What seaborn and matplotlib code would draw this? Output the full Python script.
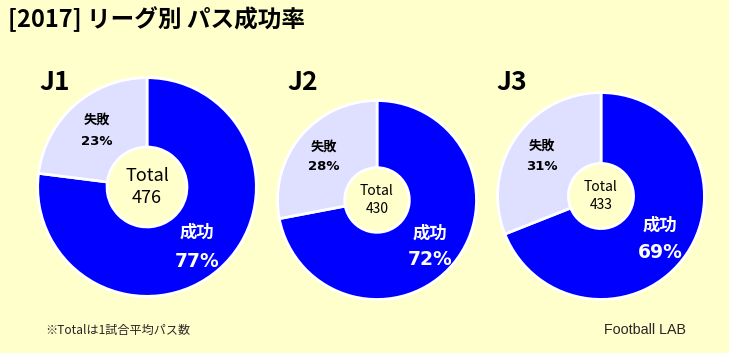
import numpy as np
import matplotlib.pyplot as plt
import seaborn as sns

# data
leagues = ["J1", "J2", "J3"]
success_pct = [77, 72, 69]
fail_pct = [23, 28, 31]
total_passes = [476, 430, 433]
slice_labels = ["成功", "失敗"]

title = "[2017] リーグ別 パス成功率"
note = "※Totalは1試合平均パス数"
source = "Football LAB"

sns.set_theme(style="white")
plt.rcParams['font.family'] = ['Noto Sans CJK JP', 'DejaVu Sans']

bg = "#FFFFCC"
colors = ["#0000FF", "#DFDFFF"]
pct_font = ['DejaVu Sans']

W, H = 729, 353
fig = plt.figure(figsize=(W / 100, H / 100), dpi=100, facecolor=bg)

# donut layout in pixels: center x, center y, radius, hole radius, fonts
layout = [
    dict(cx=147, cy=187, r=111, hole=0.36, total_fs=13, head=(55, 82)),
    dict(cx=377, cy=200, r=101, hole=0.32, total_fs=10, head=(303, 83)),
    dict(cx=601, cy=196, r=105, hole=0.31, total_fs=10, head=(512, 82)),
]

for i, lg in enumerate(leagues):
    L = layout[i]
    r = L["r"]
    ax = fig.add_axes([(L["cx"] - r) / W, (H - L["cy"] - r) / H, 2 * r / W, 2 * r / H])
    ax.set_facecolor("none")
    vals = [success_pct[i], fail_pct[i]]
    wedges, _ = ax.pie(vals, colors=colors, startangle=90, counterclock=False,
                       radius=0.985,
                       wedgeprops=dict(width=0.985 - L["hole"], edgecolor="white", linewidth=2))
    ax.set_xlim(-1, 1)
    ax.set_ylim(-1, 1)
    ax.set_aspect("equal")
    ax.axis("off")

    # labels placed at each wedge's mid angle
    for w, lab, v, k in zip(wedges, slice_labels, vals, range(2)):
        ang = np.deg2rad((w.theta1 + w.theta2) / 2)
        x, y = 0.68 * np.cos(ang), 0.68 * np.sin(ang)
        if k == 0:
            ax.text(x, y + 0.1, lab, ha="center", va="center", color="white",
                    fontsize=12.5, fontweight="bold")
            ax.text(x, y - 0.16, f"{v}%", ha="center", va="center", color="white",
                    fontsize=13.5, fontweight="bold", family=pct_font)
        else:
            ax.text(x, y + 0.1, lab, ha="center", va="center", color="black",
                    fontsize=9.5, fontweight="bold")
            ax.text(x, y - 0.1, f"{v}%", ha="center", va="center", color="black",
                    fontsize=9.5, fontweight="bold", family=pct_font)

    ax.text(0, 0, f"Total\n{total_passes[i]}", ha="center", va="center",
            fontsize=L["total_fs"], linespacing=1.3, color="black")

    hx, hy = L["head"]
    fig.text(hx / W, 1 - hy / H, lg, ha="center", va="center",
             fontsize=19, fontweight="bold", color="black")

fig.text(8 / W, 1 - 19 / H, title, ha="left", va="center",
         fontsize=17, fontweight="bold", color="black")
fig.text(45 / W, 1 - 330 / H, note, ha="left", va="center", fontsize=8.7)
fig.text(686 / W, 1 - 330 / H, source, ha="right", va="center", fontsize=10.3,
         family=['Liberation Sans', 'DejaVu Sans'])

fig.savefig("out.png", dpi=100, facecolor=bg)
